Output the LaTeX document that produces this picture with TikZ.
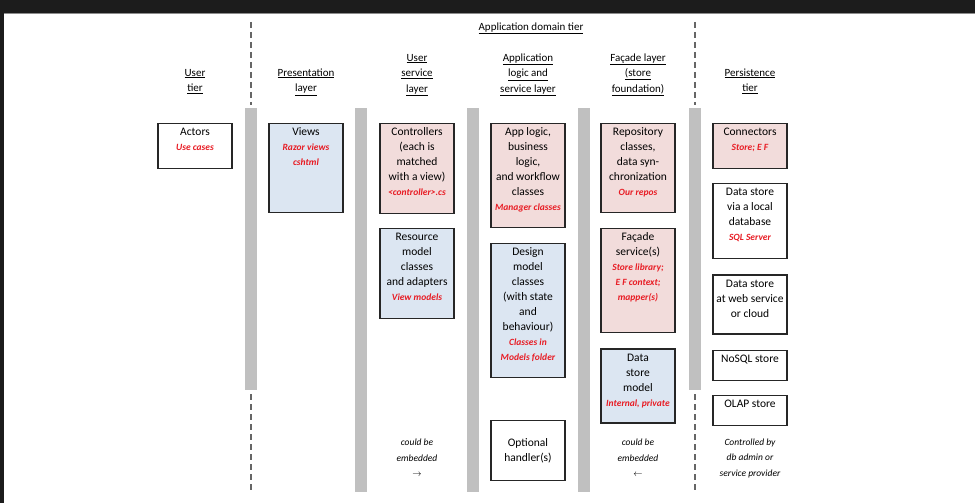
\documentclass[tikz,border=0pt]{standalone}
\usepackage{fontspec}
\setmainfont{Carlito}
\usetikzlibrary{positioning}
\definecolor{tierpink}{RGB}{242,220,219}
\definecolor{tierblue}{RGB}{220,230,242}
\definecolor{tierred}{RGB}{232,28,36}
\definecolor{bargray}{RGB}{192,192,192}
\definecolor{framedark}{RGB}{28,28,28}
\newcommand{\cellbox}[2]{\parbox[t][#1][t]{74pt}{\centering\rule{0pt}{12pt}#2}}
\newcommand{\redtxt}[1]{{\color{tierred}\fontsize{9.5}{15}\selectfont\bfseries\itshape #1}}

\begin{document}
\begin{tikzpicture}[x=1pt,y=-1pt,
    layer/.style={draw=black!85,line width=1.2pt,inner sep=0pt,anchor=north,
      font=\fontsize{11.5}{15}\selectfont},
    pinkbox/.style={layer,fill=tierpink},
    bluebox/.style={layer,fill=tierblue},
    whitebox/.style={layer,fill=white},
    heading/.style={align=center,anchor=north,inner sep=0pt,
      font=\fontsize{11}{15.5}\selectfont},
    note/.style={align=center,inner sep=0pt,font=\fontsize{9.5}{15.5}\selectfont\itshape},
    divider/.style={draw=black!60,line width=1.1pt,dash pattern=on 6pt off 4pt}]
                                \useasboundingbox (0,0) rectangle (975,503);
                                % dark frame of the screenshot
                                \fill[framedark] (0,0) rectangle (975,13);
                                \fill[framedark] (0,0) rectangle (4,503);
                                \draw[black!45,line width=0.8pt] (4,13.4) -- (975,13.4);
                                % grey separators and tier borders
                                \foreach \bx/\by in {251/390,361/492,473/492,584/492,695/390}
                                \fill[bargray] (\bx-6,108) rectangle (\bx+6,\by);
                                \foreach \bx in {251,695} {
                                \draw[divider] (\bx,22) -- (\bx,105);
                                \draw[divider] (\bx,394) -- (\bx,492);
                                }
                                % headings
                                \node[heading] (h_domain) at (531,20) {\rule{0pt}{10pt}\underline{Application domain tier}};
                                \node[heading] (h_user) at (195,66) {\rule{0pt}{10pt}\underline{User}\\ \underline{tier}};
                                \node[heading] (h_pres) at (306,66) {\rule{0pt}{10pt}\underline{Presentation}\\ \underline{layer}};
                                \node[heading] (h_usvc) at (417,51) {\rule{0pt}{10pt}\underline{User}\\ \underline{service}\\ \underline{layer}};
                                \node[heading] (h_app) at (528,51) {\rule{0pt}{10pt}\underline{Application}\\ \underline{logic and}\\ \underline{service layer}};
                                \node[heading] (h_fac) at (638,51) {\rule{0pt}{10pt}\underline{Façade layer}\\ \underline{(store}\\ \underline{foundation)}};
                                \node[heading] (h_pers) at (750,66) {\rule{0pt}{10pt}\underline{Persistence}\\ \underline{tier}};
                                % user tier and presentation layer
                                \node[whitebox] (actors) at (195,123) {\cellbox{45pt}{Actors\\ \redtxt{Use cases}}};
                                \node[bluebox] (views) at (306,123) {\cellbox{89pt}{Views\\ \redtxt{Razor views}\\ \redtxt{cshtml}}};
                                % user service layer
                                \node[pinkbox] (ctrl) at (417,123) {\cellbox{90pt}{Controllers\\ (each is\\ matched\\ with a view)\\ \redtxt{<controller>.cs}}};
                                \node[bluebox,below=14pt of ctrl] (resmodel) {\cellbox{90pt}{Resource\\ model\\ classes\\ and adapters\\ \redtxt{View models}}};
                                % application logic and service layer
                                \node[pinkbox] (applogic) at (528,123) {\cellbox{104pt}{App logic,\\ business\\ logic,\\ and workflow\\ classes\\ \redtxt{Manager classes}}};
                                \node[bluebox,below=15pt of applogic] (design) {\cellbox{134pt}{Design\\ model\\ classes\\ (with state\\ and\\ behaviour)\\ \redtxt{Classes in}\\ \redtxt{Models folder}}};
                                \node[whitebox,minimum width=74pt,minimum height=60pt,align=center] (handler) at (528,420) {Optional\\ handler(s)};
                                % facade layer
                                \node[pinkbox] (repo) at (638,123) {\cellbox{89pt}{Repository\\ classes,\\ data syn-\\ chronization\\ \redtxt{Our repos}}};
                                \node[pinkbox,below=15pt of repo] (facade) {\cellbox{104pt}{Façade\\ service(s)\\ \redtxt{Store library;}\\ \redtxt{E F context;}\\ \redtxt{mapper(s)}}};
                                \node[bluebox,below=15pt of facade] (dsmodel) {\cellbox{74pt}{Data\\ store\\ model\\ \redtxt{Internal, private}}};
                                % persistence tier
                                \node[pinkbox] (conn) at (750,123) {\cellbox{45pt}{Connectors\\ \redtxt{Store; E F}}};
                                \node[whitebox,below=14pt of conn] (dslocal) {\cellbox{75pt}{Data store\\ via a local\\ database\\ \redtxt{SQL Server}}};
                                \node[whitebox,below=15pt of dslocal] (dsweb) {\cellbox{59pt}{Data store\\ at web service\\ or cloud}};
                                \node[whitebox,below=15pt of dsweb] (nosql) {\cellbox{30pt}{NoSQL store}};
                                \node[whitebox,below=14pt of nosql] (olap) {\cellbox{30pt}{OLAP store}};
                                % notes at the bottom
                                \node[note] (embed_l) at (417,458) {could be\\ embedded\\ $\rightarrow$};
                                \node[note] (embed_r) at (638,458) {could be\\ embedded\\ $\leftarrow$};
                                \node[note] (ctrl_by) at (750,458) {Controlled by\\ db admin or\\ service provider};
                            \end{tikzpicture}
\end{document}
